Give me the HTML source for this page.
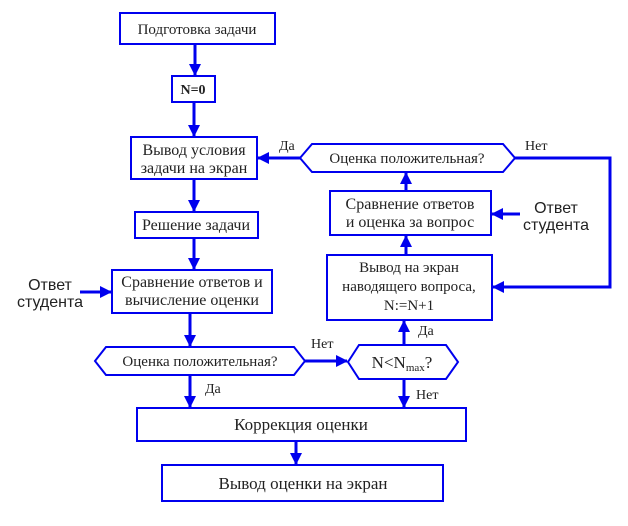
<!DOCTYPE html>
<html><head><meta charset="utf-8"><style>
html,body{margin:0;padding:0;background:#fff}
svg{display:block}
text{font-family:"Liberation Serif",serif;fill:#222}
text.s{font-family:"Liberation Sans",sans-serif}
</style></head><body>
<svg width="628" height="526" viewBox="0 0 628 526" xmlns="http://www.w3.org/2000/svg">
<defs>
<marker id="a" markerWidth="12" markerHeight="12" refX="11" refY="6" orient="auto" markerUnits="userSpaceOnUse">
<path d="M0,0 L12,6 L0,12 z" fill="#0000ee"/></marker>
</defs>
<g fill="#fff" stroke="#0000ee" stroke-width="2">
<rect x="120" y="13" width="155" height="31"/>
<rect x="172" y="76" width="43" height="26"/>
<rect x="131" y="137" width="126" height="42"/>
<rect x="135" y="212" width="123" height="26"/>
<rect x="112" y="270" width="160" height="43"/>
<polygon points="95,361 106,347 294,347 305,361 294,375 106,375"/>
<polygon points="348,362 359,345 446,345 458,362 446,379 359,379"/>
<rect x="137" y="408" width="329" height="33"/>
<rect x="162" y="465" width="281" height="36"/>
<polygon points="300,158 312,144 503,144 515,158 503,172 312,172"/>
<rect x="330" y="191" width="161" height="44"/>
<rect x="327" y="255" width="165" height="65"/>
</g>
<g stroke="#0000ee" stroke-width="3" fill="none" marker-end="url(#a)">
<line x1="195" y1="44" x2="195" y2="75"/>
<line x1="194" y1="102" x2="194" y2="136"/>
<line x1="194" y1="179" x2="194" y2="211"/>
<line x1="194" y1="238" x2="194" y2="269"/>
<line x1="80" y1="292" x2="111" y2="292"/>
<line x1="190" y1="313" x2="190" y2="346"/>
<line x1="190" y1="375" x2="190" y2="407"/>
<line x1="305" y1="361" x2="347" y2="361"/>
<line x1="404" y1="379" x2="404" y2="407"/>
<line x1="404" y1="345" x2="404" y2="321"/>
<line x1="406" y1="255" x2="406" y2="236"/>
<line x1="406" y1="191" x2="406" y2="173"/>
<line x1="300" y1="158" x2="258" y2="158"/>
<line x1="520" y1="214" x2="492" y2="214"/>
<polyline points="515,158 610,158 610,287 493,287"/>
<line x1="296" y1="441" x2="296" y2="464"/>
</g>
<g font-size="15">
<text x="197" y="34" text-anchor="middle" font-size="15">Подготовка задачи</text>
<text x="193" y="94" text-anchor="middle" font-weight="bold" font-size="14">N=0</text>
<text x="194" y="155" text-anchor="middle" font-size="16">Вывод условия</text>
<text x="194" y="173" text-anchor="middle" font-size="16">задачи на экран</text>
<text x="196" y="230" text-anchor="middle" font-size="16">Решение задачи</text>
<text x="192" y="287" text-anchor="middle" font-size="16">Сравнение ответов и</text>
<text x="192" y="305" text-anchor="middle" font-size="16">вычисление оценки</text>
<text class="s" x="50" y="290" text-anchor="middle" font-size="16">Ответ</text>
<text class="s" x="50" y="307" text-anchor="middle" font-size="16">студента</text>
<text x="200" y="366" text-anchor="middle">Оценка положительная?</text>
<text x="402" y="368" text-anchor="middle" font-size="17">N&lt;N<tspan font-size="11" dy="3">max</tspan><tspan dy="-3">?</tspan></text>
<text x="301" y="430" text-anchor="middle" font-size="17">Коррекция оценки</text>
<text x="303" y="489" text-anchor="middle" font-size="17">Вывод оценки на экран</text>
<text x="407" y="163" text-anchor="middle">Оценка положительная?</text>
<text x="410" y="209" text-anchor="middle" font-size="16">Сравнение ответов</text>
<text x="410" y="227" text-anchor="middle" font-size="16">и оценка за вопрос</text>
<text x="409" y="272" text-anchor="middle">Вывод на экран</text>
<text x="409" y="291" text-anchor="middle">наводящего вопроса,</text>
<text x="409" y="310" text-anchor="middle">N:=N+1</text>
<text class="s" x="556" y="213" text-anchor="middle" font-size="16">Ответ</text>
<text class="s" x="556" y="230" text-anchor="middle" font-size="16">студента</text>
<text x="279" y="150" font-size="14">Да</text>
<text x="525" y="150" font-size="14">Нет</text>
<text x="205" y="393" font-size="14">Да</text>
<text x="311" y="348" font-size="14">Нет</text>
<text x="418" y="335" font-size="14">Да</text>
<text x="416" y="399" font-size="14">Нет</text>
</g>
</svg>
</body></html>
